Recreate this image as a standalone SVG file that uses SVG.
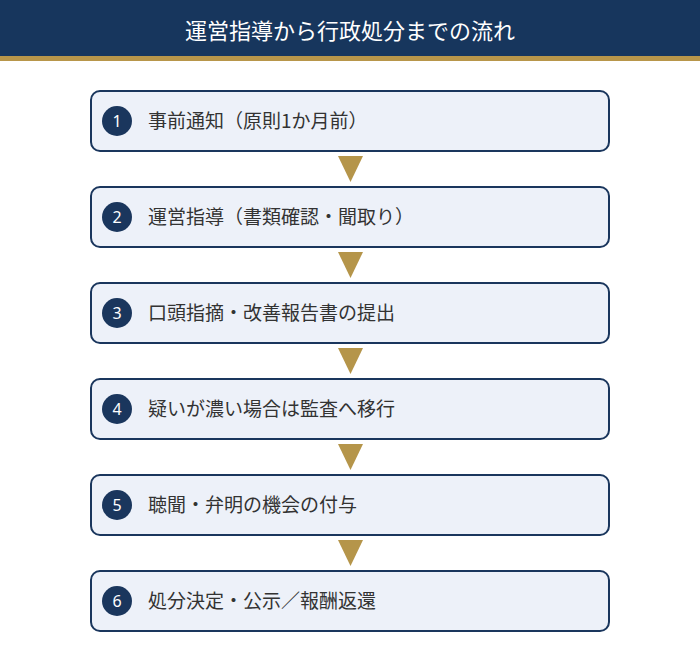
<svg xmlns="http://www.w3.org/2000/svg" width="700" height="662" viewBox="0 0 700 662">
<style>
.box{fill:#edf1f9;stroke:#1a365d;stroke-width:2}
.num{fill:#1a365d}
.numt{fill:#ffffff;font-family:"Noto Sans","Noto Sans CJK JP",sans-serif;font-size:16px;text-anchor:middle}
.lbl{fill:#333333;font-family:"Noto Sans CJK JP",sans-serif;font-size:19px}
.arr{fill:#b5954a}
</style>
<rect x="0" y="0" width="700" height="662" fill="#ffffff"/>
<g id="header">
<rect x="0" y="0" width="700" height="56" fill="#17365d"/>
<rect x="0" y="56" width="700" height="5" fill="#b8964a"/>
<text x="350" y="39" fill="#ffffff" font-family="Noto Sans CJK JP, sans-serif" font-size="22" text-anchor="middle">運営指導から行政処分までの流れ</text>
</g>
<g id="connectors">
<polygon class="arr" points="338,156 363,156 350.5,182"/>
<polygon class="arr" points="338,252 363,252 350.5,278"/>
<polygon class="arr" points="338,348 363,348 350.5,374"/>
<polygon class="arr" points="338,444 363,444 350.5,470"/>
<polygon class="arr" points="338,540 363,540 350.5,566"/>
</g>
<g id="step1">
<rect class="box" x="91" y="91" width="518" height="60" rx="9"/>
<circle class="num" cx="117" cy="121" r="15"/>
<text class="numt" x="117" y="127">1</text>
<text class="lbl" x="148" y="128">事前通知（原則1か月前）</text>
</g>
<g id="step2">
<rect class="box" x="91" y="187" width="518" height="60" rx="9"/>
<circle class="num" cx="117" cy="217" r="15"/>
<text class="numt" x="117" y="223">2</text>
<text class="lbl" x="148" y="224">運営指導（書類確認・聞取り）</text>
</g>
<g id="step3">
<rect class="box" x="91" y="283" width="518" height="60" rx="9"/>
<circle class="num" cx="117" cy="313" r="15"/>
<text class="numt" x="117" y="319">3</text>
<text class="lbl" x="148" y="320">口頭指摘・改善報告書の提出</text>
</g>
<g id="step4">
<rect class="box" x="91" y="379" width="518" height="60" rx="9"/>
<circle class="num" cx="117" cy="409" r="15"/>
<text class="numt" x="117" y="415">4</text>
<text class="lbl" x="148" y="416">疑いが濃い場合は監査へ移行</text>
</g>
<g id="step5">
<rect class="box" x="91" y="475" width="518" height="60" rx="9"/>
<circle class="num" cx="117" cy="505" r="15"/>
<text class="numt" x="117" y="511">5</text>
<text class="lbl" x="148" y="512">聴聞・弁明の機会の付与</text>
</g>
<g id="step6">
<rect class="box" x="91" y="571" width="518" height="60" rx="9"/>
<circle class="num" cx="117" cy="601" r="15"/>
<text class="numt" x="117" y="607">6</text>
<text class="lbl" x="148" y="608">処分決定・公示／報酬返還</text>
</g>
</svg>
